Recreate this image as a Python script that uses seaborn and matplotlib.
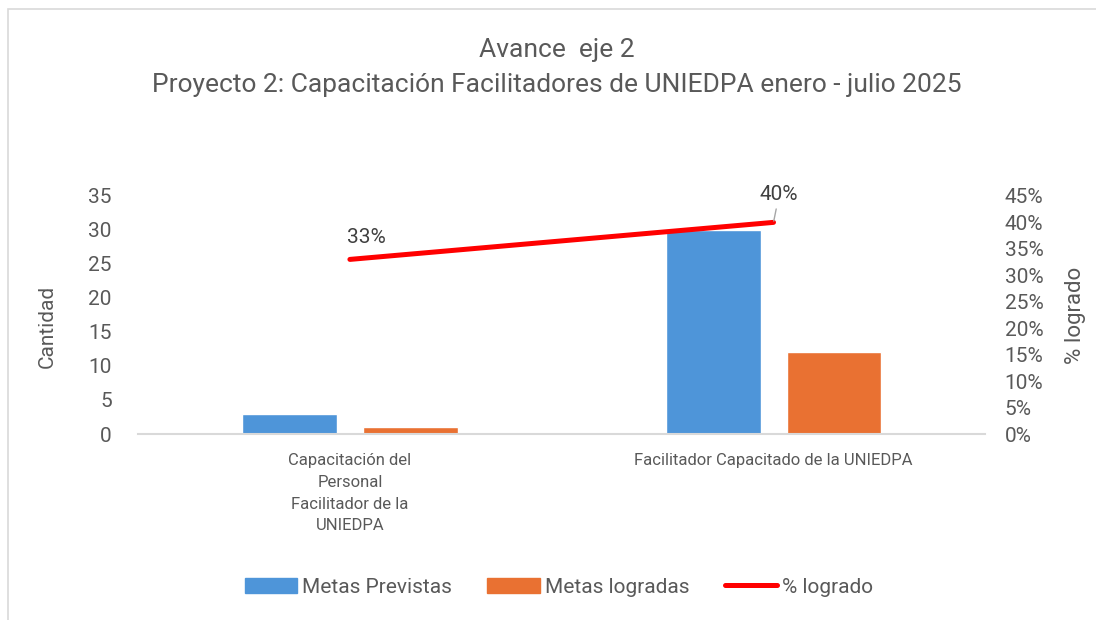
import matplotlib.pyplot as plt
import seaborn as sns
import numpy as np
import pandas as pd
from matplotlib.patches import Rectangle, Patch
from matplotlib.lines import Line2D

# datos
categorias = ['Capacitación del\nPersonal\nFacilitador de la\nUNIEDPA',
              'Facilitador Capacitado de la UNIEDPA']
metas_previstas = [3, 30]
metas_logradas = [1, 12]
pct_logrado = [0.33, 0.40]
pct_labels = ['33%', '40%']

sns.set_theme(style='white')
plt.rcParams['font.family'] = ['Roboto', 'DejaVu Sans']
gris = '#595959'

df = pd.DataFrame({
    'cat': categorias * 2,
    'valor': metas_previstas + metas_logradas,
    'serie': ['Metas Previstas'] * 2 + ['Metas logradas'] * 2,
})

fig = plt.figure(figsize=(10.96, 6.2), dpi=100)
fig.patches.append(Rectangle((8 / 1096, -0.1), 1.2, 1 - 9 / 620 + 0.1,
                             transform=fig.transFigure, fill=False,
                             edgecolor='#d9d9d9', linewidth=1.2))
ax = fig.add_axes([0.126, 0.30, 0.773, 0.384])
sns.barplot(data=df, x='cat', y='valor', hue='serie', ax=ax,
            palette=['#4E95D9', '#E97132'], width=0.571, gap=0.215,
            saturation=1, legend=False)
ax.set_xlim(-0.5, 1.5)
ax.set_ylim(0, 35)
ax.set_yticks(range(0, 36, 5))
ax.set_xlabel('')
ax.set_ylabel('Cantidad', fontsize=15, color=gris)
ax.yaxis.set_label_coords(-0.096, 0.45)
ax.tick_params(axis='y', labelsize=15, labelcolor=gris, pad=19, length=0)
ax.tick_params(axis='x', labelsize=12, labelcolor=gris, pad=14, length=0)
for lab in ax.get_xticklabels():
    lab.set_linespacing(1.55)
for s in ['top', 'right', 'left']:
    ax.spines[s].set_visible(False)
ax.spines['bottom'].set_color('#d9d9d9')
ax.spines['bottom'].set_linewidth(1.5)

ax2 = ax.twinx()
pos = np.arange(len(categorias))
sns.lineplot(x=pos, y=pct_logrado, ax=ax2, color='#FF0000', linewidth=3.6,
             solid_capstyle='round')
ax2.set_ylim(0, 0.45)
ticks2 = np.arange(0, 0.46, 0.05)
ax2.set_yticks(ticks2)
ax2.set_yticklabels([f'{int(round(v * 100))}%' for v in ticks2])
ax2.tick_params(axis='y', labelsize=15, labelcolor=gris, pad=14, length=0)
ax2.set_ylabel('% logrado', fontsize=16, color=gris)
ax2.yaxis.set_label_coords(1.094, 0.5)
for s in ['top', 'right', 'left', 'bottom']:
    ax2.spines[s].set_visible(False)

ax2.annotate(pct_labels[0], (pos[0], pct_logrado[0]), xytext=(12, 9),
             textcoords='offset points', fontsize=15, color='#404040',
             ha='center', va='bottom')
ax2.annotate(pct_labels[1], (pos[1], pct_logrado[1]), xytext=(4, 13),
             textcoords='offset points', fontsize=15, color='#404040',
             ha='center', va='bottom',
             arrowprops=dict(arrowstyle='-', color='#a6a6a6', lw=1,
                             shrinkA=1, shrinkB=1))

fig.text(0.508, 0.92, 'Avance  eje 2', ha='center', va='center',
         fontsize=19, color=gris)
fig.text(0.508, 0.863,
         'Proyecto 2: Capacitación Facilitadores de UNIEDPA enero - julio 2025',
         ha='center', va='center', fontsize=19, color=gris)

handles = [Patch(color='#4E95D9'), Patch(color='#E97132'),
           Line2D([0], [0], color='#FF0000', linewidth=3.6, solid_capstyle='round')]
fig.legend(handles, ['Metas Previstas', 'Metas logradas', '% logrado'],
           loc='center', bbox_to_anchor=(0.51, 0.053), ncol=3, frameon=False,
           fontsize=15, labelcolor=gris, handlelength=2.5, handleheight=0.8,
           handletextpad=0.25, columnspacing=1.7)

fig.savefig('out.png', dpi=100)
